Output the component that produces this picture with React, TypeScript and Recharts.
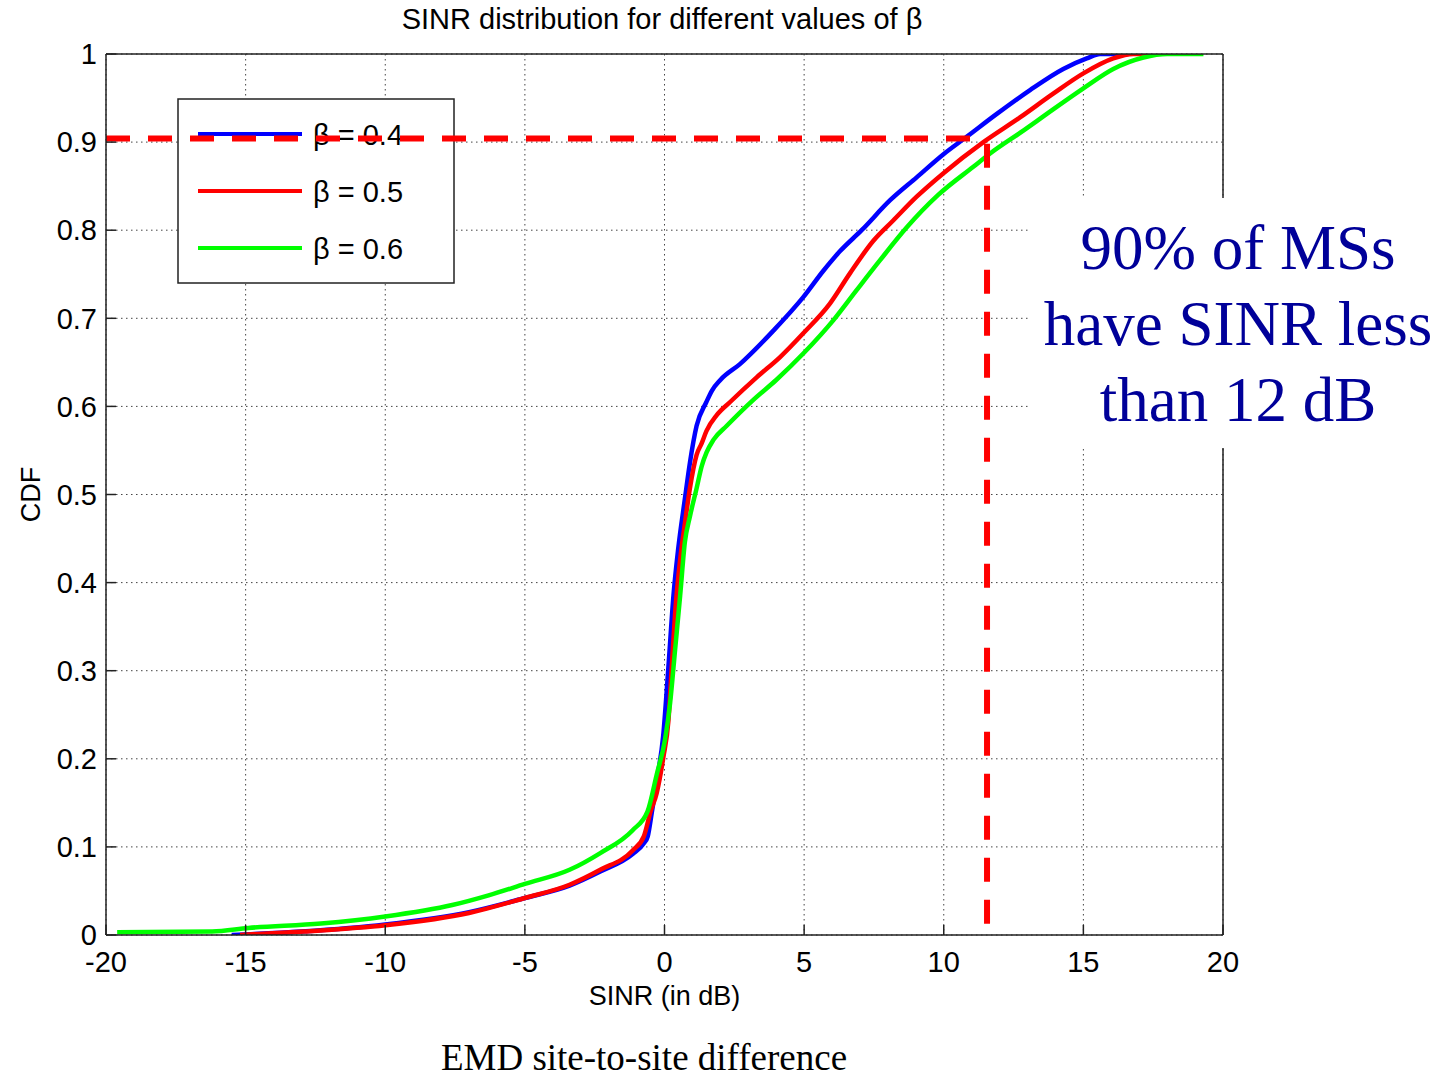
import React from 'react';
import { LineChart, Line, XAxis, YAxis, CartesianGrid, ReferenceLine } from 'recharts';

// axis ticks
const xTicks = [-20, -15, -10, -5, 0, 5, 10, 15, 20];
const yTicks = [0, 0.1, 0.2, 0.3, 0.4, 0.5, 0.6, 0.7, 0.8, 0.9, 1];
const yTickLabels = ['0', '0.1', '0.2', '0.3', '0.4', '0.5', '0.6', '0.7', '0.8', '0.9', '1'];

// beta = 0.4
const beta04X = [-15.5, -13, -10, -7, -5, -3.4, -2.3, -1.14, -0.74, -0.6, -0.45, -0.25, -0.05, 0.14, 0.32, 0.49, 0.73, 0.91, 1.15, 1.5, 1.7, 2.0, 2.7, 3.9, 4.97, 5.69, 6.28, 7.06, 8.08, 9.03, 9.98, 10.82, 11.9, 13.09, 14.28, 15.12, 15.6, 16.5];
const beta04Y = [0, 0.004, 0.012, 0.026, 0.042, 0.056, 0.072, 0.092, 0.104, 0.112, 0.14, 0.18, 0.225, 0.304, 0.385, 0.438, 0.495, 0.536, 0.578, 0.605, 0.618, 0.63, 0.648, 0.686, 0.724, 0.754, 0.776, 0.8, 0.834, 0.86, 0.886, 0.906, 0.932, 0.959, 0.983, 0.995, 1.0, 1.0];

// beta = 0.5
const beta05X = [-15.2, -12.9, -10, -7, -5, -3.4, -2.3, -1.14, -0.74, -0.5, -0.28, -0.04, 0.14, 0.26, 0.38, 0.56, 0.73, 0.91, 1.15, 1.33, 1.5, 1.87, 2.35, 3.3, 4.14, 4.97, 5.93, 6.64, 7.48, 8.19, 9.03, 10.0, 11.42, 12.73, 13.92, 15.0, 16.07, 16.8, 17.5];
const beta05Y = [0, 0.004, 0.011, 0.025, 0.042, 0.057, 0.074, 0.096, 0.112, 0.14, 0.161, 0.202, 0.243, 0.304, 0.365, 0.426, 0.467, 0.507, 0.545, 0.558, 0.572, 0.59, 0.605, 0.633, 0.656, 0.683, 0.717, 0.751, 0.788, 0.811, 0.838, 0.865, 0.9, 0.928, 0.955, 0.978, 0.995, 1.0, 1.0];

// beta = 0.6
const beta06X = [-19.6, -16.2, -14.9, -12.3, -10, -7.6, -6.3, -5, -3.4, -2.3, -1.14, -0.61, -0.28, 0.02, 0.2, 0.38, 0.56, 0.73, 0.91, 1.15, 1.33, 1.51, 1.75, 2.23, 3.2, 4.0, 4.97, 6.05, 6.88, 7.72, 8.67, 9.8, 11.06, 11.66, 12.85, 13.69, 15.0, 16.07, 17.15, 18, 19.3];
const beta06Y = [0.003, 0.004, 0.008, 0.013, 0.021, 0.034, 0.045, 0.058, 0.074, 0.093, 0.119, 0.14, 0.182, 0.222, 0.263, 0.324, 0.385, 0.446, 0.475, 0.507, 0.532, 0.548, 0.562, 0.578, 0.608, 0.63, 0.66, 0.698, 0.732, 0.766, 0.803, 0.84, 0.872, 0.887, 0.913, 0.932, 0.961, 0.983, 0.996, 1.0, 1.0];

const seriesNames = ['β = 0.4', 'β = 0.5', 'β = 0.6'];
const seriesColors = ['#0000ff', '#ff0000', '#00ff00'];

// 90% marker
const cutoffCdf = 0.904;
const cutoffSinr = 11.55;
const hLineEnd = 11.2;
const vLineTop = 0.898;
const vLineBottom = 0.012;

const toPoints = (xs: number[], ys: number[]) => xs.map((x, i) => ({ x, y: ys[i] }));

const series = [
  toPoints(beta04X, beta04Y),
  toPoints(beta05X, beta05Y),
  toPoints(beta06X, beta06Y),
];

const sans = '"Liberation Sans", Arial, Helvetica, sans-serif';
const serif = '"Liberation Serif", "Times New Roman", serif';
const axisColor = '#222';

const LegendBox = () => (
  <g>
    <rect x={178} y={99} width={276} height={184} fill="#fff" stroke={axisColor} strokeWidth={1.5} />
    {seriesNames.map((name, i) => {
      const ly = 134 + i * 57;
      return (
        <g key={name}>
          <line x1={198} x2={302} y1={ly} y2={ly} stroke={seriesColors[i]} strokeWidth={4} />
          <text x={313} y={ly + 11} fontSize={29} fontFamily={sans} fill="#000">{name}</text>
        </g>
      );
    })}
  </g>
);

export default function App() {
  return (
    <div style={{ position: 'relative', width: 1446, height: 1077, background: '#fff', overflow: 'hidden' }}>
      <style>{'body{margin:0}'}</style>
      <div style={{ position: 'absolute', left: 0, width: 1324, top: 3, textAlign: 'center', fontFamily: sans, fontSize: 29, color: '#000' }}>
        SINR distribution for different values of β
      </div>
      <LineChart width={1446} height={1077} margin={{ top: 53, right: 222, bottom: 62, left: 0 }}>
        <CartesianGrid stroke="#444" strokeDasharray="1.5 3.5" strokeWidth={1} />
        <XAxis
          dataKey="x"
          type="number"
          domain={[-20, 20]}
          ticks={xTicks}
          allowDataOverflow
          height={80}
          tickSize={-10}
          tickMargin={26}
          stroke={axisColor}
          strokeWidth={1.5}
          tick={{ fill: '#000', fontSize: 29, fontFamily: sans }}
          label={{ value: 'SINR (in dB)', position: 'insideBottom', offset: 10, fill: '#000', fontSize: 27, fontFamily: sans }}
        />
        <XAxis
          xAxisId="top"
          orientation="top"
          type="number"
          domain={[-20, 20]}
          ticks={xTicks}
          allowDataOverflow
          height={1}
          tickSize={-10}
          tick={false}
          stroke={axisColor}
          strokeWidth={1.5}
        />
        <YAxis
          type="number"
          domain={[0, 1]}
          ticks={yTicks}
          allowDataOverflow
          width={106}
          tickSize={-10}
          tickMargin={19}
          stroke={axisColor}
          strokeWidth={1.5}
          tickFormatter={(v: number) => yTickLabels[yTicks.indexOf(v)] ?? String(v)}
          tick={{ fill: '#000', fontSize: 29, fontFamily: sans }}
          label={{ value: 'CDF', angle: -90, position: 'insideLeft', offset: 30, fill: '#000', fontSize: 27, fontFamily: sans, style: { textAnchor: 'middle' } }}
        />
        <YAxis
          yAxisId="right"
          orientation="right"
          type="number"
          domain={[0, 1]}
          ticks={yTicks}
          allowDataOverflow
          width={1}
          tickSize={-10}
          tick={false}
          stroke={axisColor}
          strokeWidth={1.5}
        />
        <LegendBox />
        {series.map((data, i) => (
          <Line
            key={seriesNames[i]}
            data={data}
            dataKey="y"
            name={seriesNames[i]}
            type="monotone"
            stroke={seriesColors[i]}
            strokeWidth={4.5}
            dot={false}
            isAnimationActive={false}
          />
        ))}
        <ReferenceLine
          segment={[{ x: -20, y: cutoffCdf }, { x: hLineEnd, y: cutoffCdf }]}
          stroke="#ff0000"
          strokeWidth={6}
          strokeDasharray="24 18"
        />
        <ReferenceLine
          segment={[{ x: cutoffSinr, y: vLineTop }, { x: cutoffSinr, y: vLineBottom }]}
          stroke="#ff0000"
          strokeWidth={6}
          strokeDasharray="24 18"
        />
      </LineChart>
      <div style={{ position: 'absolute', left: 1030, top: 198, width: 416, height: 250, paddingTop: 12, boxSizing: 'border-box', background: '#fff', textAlign: 'center', fontFamily: serif, fontSize: 63, lineHeight: '76px', color: '#000099' }}>
        90% of MSs<br />have SINR less<br />than 12 dB
      </div>
      <div style={{ position: 'absolute', left: 0, width: 1288, top: 1039, textAlign: 'center', fontFamily: serif, fontSize: 37, lineHeight: '37px', color: '#000' }}>
        EMD site-to-site difference
      </div>
    </div>
  );
}
